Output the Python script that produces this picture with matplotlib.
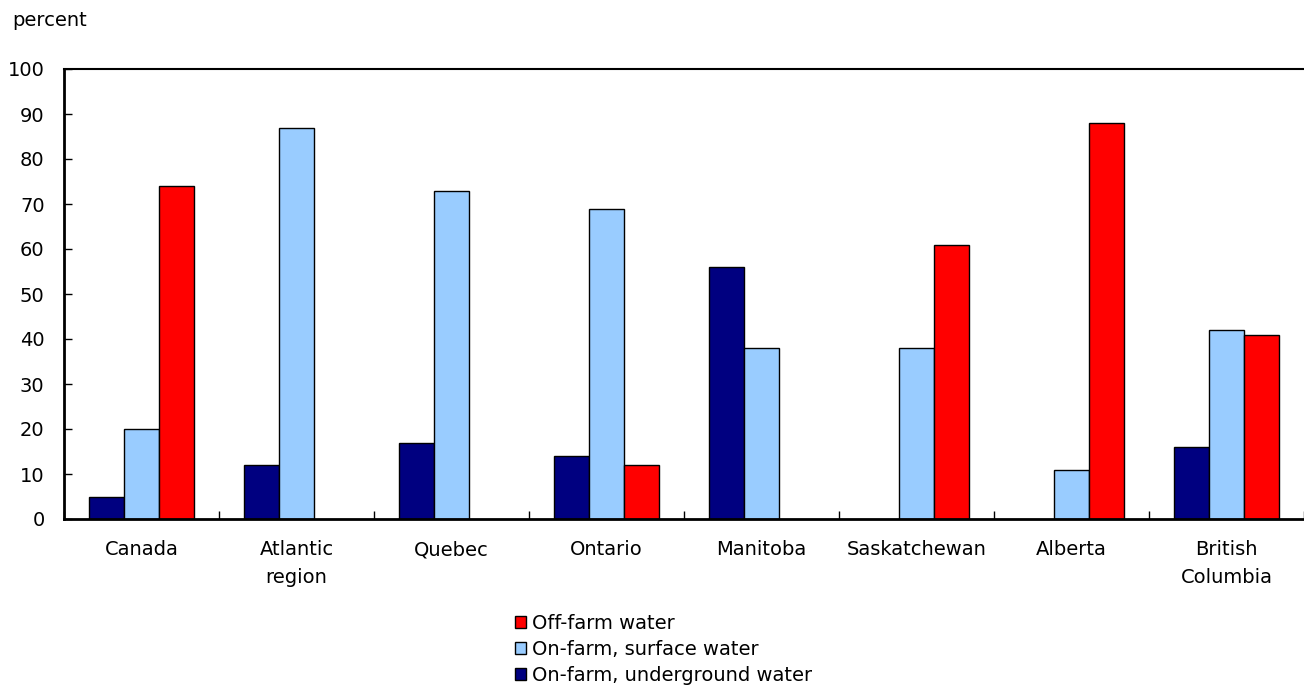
import matplotlib
matplotlib.use("Agg")
import matplotlib.pyplot as plt
import matplotlib.transforms as mtransforms
import numpy as np
from matplotlib.patches import Patch

categories = ["Canada", "Atlantic\nregion", "Quebec", "Ontario", "Manitoba",
              "Saskatchewan", "Alberta", "British\nColumbia"]
underground = [5, 12, 17, 14, 56, 0, 0, 16]
surface = [20, 87, 73, 69, 38, 38, 11, 42]
offfarm = [74, 0, 0, 12, 0, 61, 88, 41]
yticks = list(range(0, 101, 10))

c_under = "#000080"
c_surf = "#99CCFF"
c_off = "#FF0000"

FS = 14
W, H = 1304, 690
plt.rcParams['font.family'] = ['DejaVu Sans']
fig = plt.figure(figsize=(W / 100, H / 100), dpi=100)
ax = fig.add_axes([64 / W, 1 - 519 / H, (W - 64) / W, (519 - 69) / H])

x = np.arange(len(categories))
w = 0.226
for vals, col, off in [(underground, c_under, -1), (surface, c_surf, 0), (offfarm, c_off, 1)]:
    v = np.array(vals, dtype=float)
    mask = v > 0
    ax.bar(x[mask] + off * w, v[mask], width=w, color=col, edgecolor="black", linewidth=1.0)

ax.set_xlim(-0.5, len(categories) - 0.5)
ax.set_ylim(0, 100)
ax.set_yticks(yticks)
ax.set_yticklabels([str(t) for t in yticks], fontsize=FS)
ax.set_xticks(np.arange(len(categories) + 1) - 0.5)
ax.set_xticklabels([])
ax.tick_params(axis='x', which='major', direction='in', length=6, width=1)
ax.tick_params(axis='y', direction='in', length=6, width=1, pad=14)

# category labels, line by line at fixed baselines
trans = mtransforms.blended_transform_factory(ax.transData, fig.transFigure)
for xi, lab in zip(x, categories):
    for li, line in enumerate(lab.split("\n")):
        ax.text(xi, 1 - (555 + 28 * li) / H, line, transform=trans, ha='center',
                va='baseline', fontsize=FS, clip_on=False)

ax.spines['right'].set_visible(False)
ax.spines['left'].set_linewidth(2)
ax.spines['bottom'].set_linewidth(2)
ax.spines['top'].set_linewidth(1.5)

fig.text(12 / W, 1 - 20 / H, "percent", fontsize=FS, va='center', ha='left')

handles = [Patch(facecolor=c_off, edgecolor='black', label="Off-farm water"),
           Patch(facecolor=c_surf, edgecolor='black', label="On-farm, surface water"),
           Patch(facecolor=c_under, edgecolor='black', label="On-farm, underground water")]
fig.legend(handles=handles, loc='upper left', bbox_to_anchor=(515 / W, 1 - 614 / H),
           frameon=False, fontsize=FS, handlelength=0.55, handleheight=0.55,
           handletextpad=0.3, labelspacing=0.35, borderpad=0, borderaxespad=0)

fig.savefig("out.png", dpi=100)
